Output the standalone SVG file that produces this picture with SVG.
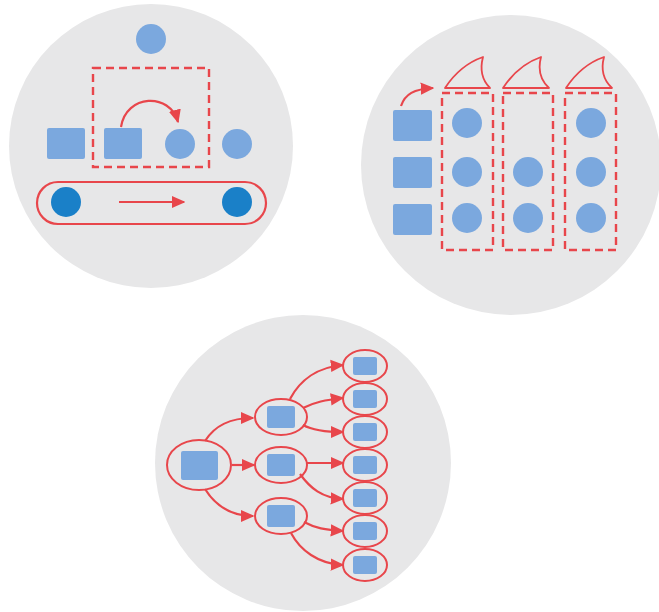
<svg xmlns="http://www.w3.org/2000/svg" width="659" height="612" viewBox="0 0 659 612">
<defs>
<style>
.bg{fill:#e7e7e8}
.b{fill:#7ba8de}
.db{fill:#1a80c8}
.ln{fill:none;stroke:#e8464b;stroke-width:2.2}
.dash{fill:none;stroke:#e8464b;stroke-width:2.4;stroke-dasharray:8,5}
.ell{fill:none;stroke:#e8464b;stroke-width:2}
.fin{fill:none;stroke:#e8464b;stroke-width:1.8;stroke-linejoin:round}
</style>
<marker id="ah" viewBox="0 0 10 10" refX="9" refY="5" markerWidth="6.2" markerHeight="6.2" orient="auto" markerUnits="strokeWidth">
<path d="M0,0.5 L10,5 L0,9.5 Z" fill="#e8464b"/>
</marker>
</defs>
<rect width="659" height="612" fill="#ffffff"/>

<g id="panel-conveyor">
<circle class="bg" cx="151" cy="146" r="142"/>
<circle class="b" cx="151" cy="39" r="15"/>
<rect class="dash" x="93" y="68" width="116" height="99"/>
<rect class="b" x="47" y="128" width="38" height="31" rx="2"/>
<rect class="b" x="104" y="128" width="38" height="31" rx="2"/>
<circle class="b" cx="180" cy="144" r="15"/>
<circle class="b" cx="237" cy="144" r="15"/>
<path class="ln" d="M121,127 C126,94 170,92 178,122" marker-end="url(#ah)"/>
<rect x="37" y="182" width="229" height="42" rx="21" fill="none" stroke="#e8464b" stroke-width="2.2"/>
<circle class="db" cx="66" cy="202" r="15"/>
<circle class="db" cx="237" cy="202" r="15"/>
<path class="ln" d="M119,202 L184,202" marker-end="url(#ah)"/>
</g>

<g id="panel-columns">
<circle class="bg" cx="511" cy="165" r="150"/>
<rect class="b" x="393" y="110" width="39" height="31" rx="2"/>
<rect class="b" x="393" y="157" width="39" height="31" rx="2"/>
<rect class="b" x="393" y="204" width="39" height="31" rx="2"/>
<path class="ln" d="M401,106 C405,94 414,89 433,88" marker-end="url(#ah)"/>
<rect class="dash" x="442" y="93" width="51" height="157"/>
<rect class="dash" x="503" y="93" width="50" height="157"/>
<rect class="dash" x="565" y="93" width="51" height="157"/>
<path class="fin" d="M445,88 Q460,65 483,57 Q478,76 490,88 Z"/>
<path class="fin" d="M503,88 Q518,65 541,57 Q536,76 549,88 Z"/>
<path class="fin" d="M566,88 Q581,65 604,57 Q599,76 612,88 Z"/>
<circle class="b" cx="467" cy="123" r="15"/>
<circle class="b" cx="467" cy="172" r="15"/>
<circle class="b" cx="467" cy="218" r="15"/>
<circle class="b" cx="528" cy="172" r="15"/>
<circle class="b" cx="528" cy="218" r="15"/>
<circle class="b" cx="591" cy="123" r="15"/>
<circle class="b" cx="591" cy="172" r="15"/>
<circle class="b" cx="591" cy="218" r="15"/>
</g>

<g id="panel-tree">
<circle class="bg" cx="303" cy="463" r="148"/>
</g>

<g id="connectors">
<path class="ln" d="M205,441 C215,425 230,418 253,418" marker-end="url(#ah)"/>
<path class="ln" d="M232,465 L254,465" marker-end="url(#ah)"/>
<path class="ln" d="M205,489 C215,505 230,516 253,516" marker-end="url(#ah)"/>
<path class="ln" d="M290,399 C300,380 318,367 343,365" marker-end="url(#ah)"/>
<path class="ln" d="M303,408 C315,402 325,400 343,398" marker-end="url(#ah)"/>
<path class="ln" d="M303,425 C312,430 325,432 343,432" marker-end="url(#ah)"/>
<path class="ln" d="M307,463 L343,463" marker-end="url(#ah)"/>
<path class="ln" d="M300,474 C310,488 322,498 343,499" marker-end="url(#ah)"/>
<path class="ln" d="M304,522 C315,528 325,530 343,531" marker-end="url(#ah)"/>
<path class="ln" d="M291,533 C300,550 318,564 343,565" marker-end="url(#ah)"/>
</g>

<g id="node-root">
<ellipse class="ell" cx="199" cy="465" rx="32" ry="25"/>
<rect class="b" x="181" y="451" width="37" height="29" rx="2"/>
</g>
<g id="node-m1"><ellipse class="ell" cx="281" cy="417" rx="26" ry="18"/><rect class="b" x="267" y="406" width="28" height="22" rx="2"/></g>
<g id="node-m2"><ellipse class="ell" cx="281" cy="465" rx="26" ry="18"/><rect class="b" x="267" y="454" width="28" height="22" rx="2"/></g>
<g id="node-m3"><ellipse class="ell" cx="281" cy="516" rx="26" ry="18"/><rect class="b" x="267" y="505" width="28" height="22" rx="2"/></g>
<g id="node-l1"><ellipse class="ell" cx="365" cy="366" rx="22" ry="16"/><rect class="b" x="353" y="357" width="24" height="18" rx="2"/></g>
<g id="node-l2"><ellipse class="ell" cx="365" cy="399" rx="22" ry="16"/><rect class="b" x="353" y="390" width="24" height="18" rx="2"/></g>
<g id="node-l3"><ellipse class="ell" cx="365" cy="432" rx="22" ry="16"/><rect class="b" x="353" y="423" width="24" height="18" rx="2"/></g>
<g id="node-l4"><ellipse class="ell" cx="365" cy="465" rx="22" ry="16"/><rect class="b" x="353" y="456" width="24" height="18" rx="2"/></g>
<g id="node-l5"><ellipse class="ell" cx="365" cy="498" rx="22" ry="16"/><rect class="b" x="353" y="489" width="24" height="18" rx="2"/></g>
<g id="node-l6"><ellipse class="ell" cx="365" cy="531" rx="22" ry="16"/><rect class="b" x="353" y="522" width="24" height="18" rx="2"/></g>
<g id="node-l7"><ellipse class="ell" cx="365" cy="565" rx="22" ry="16"/><rect class="b" x="353" y="556" width="24" height="18" rx="2"/></g>
</svg>
